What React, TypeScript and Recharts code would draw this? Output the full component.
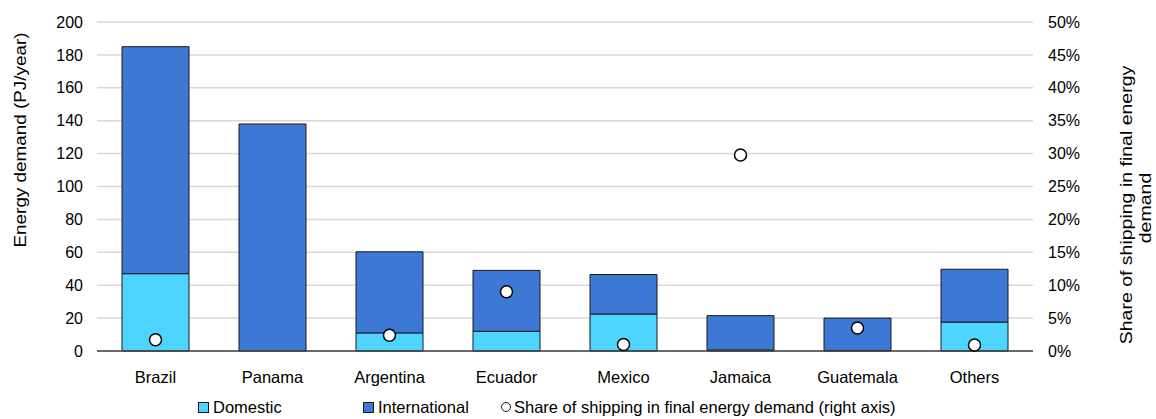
import React from 'react'
import {
  ComposedChart,
  Bar,
  Line,
  XAxis,
  YAxis,
  CartesianGrid,
  Legend,
} from 'recharts'

const FONT = '"Liberation Sans", Arial, sans-serif'

// values
const countries = ['Brazil', 'Panama', 'Argentina', 'Ecuador', 'Mexico', 'Jamaica', 'Guatemala', 'Others']
const domestic = [47, 0, 11, 12, 22.5, 0.6, 0.3, 17.6]
const international = [138, 138, 49.3, 37, 24, 20.9, 19.7, 32.1]
const sharePct: Array<number | null> = [1.7, null, 2.4, 9.0, 1.0, 29.8, 3.5, 0.9]

const leftTicks = [0, 20, 40, 60, 80, 100, 120, 140, 160, 180, 200]
const rightTicks = [0, 5, 10, 15, 20, 25, 30, 35, 40, 45, 50]

const legendNames = ['Domestic', 'International', 'Share of shipping in final energy demand (right axis)']

const COLORS = {
  domestic: '#4DD4FF',
  international: '#3C78D4',
  outline: '#1a1a1a',
  grid: '#d9d9d9',
}

const rows = countries.map((c, i) => ({
  country: c,
  domestic: domestic[i],
  international: international[i],
  share: sharePct[i],
}))

// rotated titles are stretched along the baseline to match the source's proportions
function LeftTitle(props: any) {
  const x = 21
  const y = 140
  return (
    <text transform={`translate(${x}, ${y}) rotate(-90) scale(1.18, 1)`} textAnchor="middle" dominantBaseline="central"
      fontFamily={FONT} fontSize={16} fill="#000">
      Energy demand (PJ/year)
    </text>
  )
}

function RightTitle(props: any) {
  const lines = [
    { x: 1127, y: 205, t: 'Share of shipping in final energy' },
    { x: 1146, y: 208, t: 'demand' },
  ]
  return (
    <g>
      {lines.map((l) => (
        <text key={l.t} transform={`translate(${l.x}, ${l.y}) rotate(-90) scale(1.22, 1)`} textAnchor="middle"
          dominantBaseline="central" fontFamily={FONT} fontSize={16} fill="#000">
          {l.t}
        </text>
      ))}
    </g>
  )
}

function LegendBox() {
  const lefts = [198, 363, 501]
  return (
    <div style={{ position: 'relative', height: 24, fontFamily: FONT, fontSize: 16.5, color: '#000' }}>
      {legendNames.map((name, i) => (
        <div key={name} style={{ position: 'absolute', left: lefts[i], top: 0, height: 24, display: 'flex', alignItems: 'center', whiteSpace: 'nowrap' }}>
          {i < 2 ? (
            <span style={{
              display: 'inline-block', width: 9, height: 9, marginRight: 4,
              background: i === 0 ? COLORS.domestic : COLORS.international,
              border: `1px solid ${COLORS.outline}`,
            }} />
          ) : (
            <span style={{
              display: 'inline-block', width: 8, height: 8, marginRight: 3, borderRadius: '50%',
              background: '#fff', border: `1.5px solid ${COLORS.outline}`,
            }} />
          )}
          <span>{name}</span>
        </div>
      ))}
    </div>
  )
}

export default function App() {
  return (
    <div style={{ position: 'absolute', left: 0, top: 0, width: 1156, height: 419, background: '#fff' }}>
      <ComposedChart
        width={1156}
        height={419}
        data={rows}
        margin={{ top: 22, right: 0, bottom: 0, left: 0 }}
      >
        <CartesianGrid yAxisId="left" vertical={false} stroke={COLORS.grid} strokeWidth={1.5} />
        <XAxis
          dataKey="country"
          height={44}
          tickSize={0}
          tickMargin={20}
          axisLine={{ stroke: '#404040', strokeWidth: 1.5 }}
          tick={{ fill: '#000', fontSize: 16.5, fontFamily: FONT }}
        />
        <YAxis
          yAxisId="left"
          orientation="left"
          width={97}
          domain={[0, 200]}
          ticks={leftTicks}
          interval={0}
          axisLine={false}
          tickLine={false}
          tickSize={0}
          tickMargin={14}
          tick={{ fill: '#000', fontSize: 16, fontFamily: FONT }}
          label={<LeftTitle />}
        />
        <YAxis
          yAxisId="right"
          orientation="right"
          width={123}
          domain={[0, 50]}
          ticks={rightTicks}
          interval={0}
          axisLine={false}
          tickLine={false}
          tickSize={0}
          tickMargin={15}
          tickFormatter={(v) => `${v}%`}
          tick={{ fill: '#000', fontSize: 16, fontFamily: FONT }}
          label={<RightTitle />}
        />
        <Legend verticalAlign="bottom" height={24} content={() => <LegendBox />} />
        <Bar yAxisId="left" dataKey="domestic" stackId="s" fill={COLORS.domestic} stroke={COLORS.outline} strokeWidth={1} barSize={67} isAnimationActive={false} />
        <Bar yAxisId="left" dataKey="international" stackId="s" fill={COLORS.international} stroke={COLORS.outline} strokeWidth={1} barSize={67} isAnimationActive={false} />
        <Line
          yAxisId="right"
          dataKey="share"
          stroke="none"
          dot={{ r: 6, fill: '#fff', stroke: '#000', strokeWidth: 1.5 }}
          activeDot={false}
          isAnimationActive={false}
        />
      </ComposedChart>
    </div>
  )
}
